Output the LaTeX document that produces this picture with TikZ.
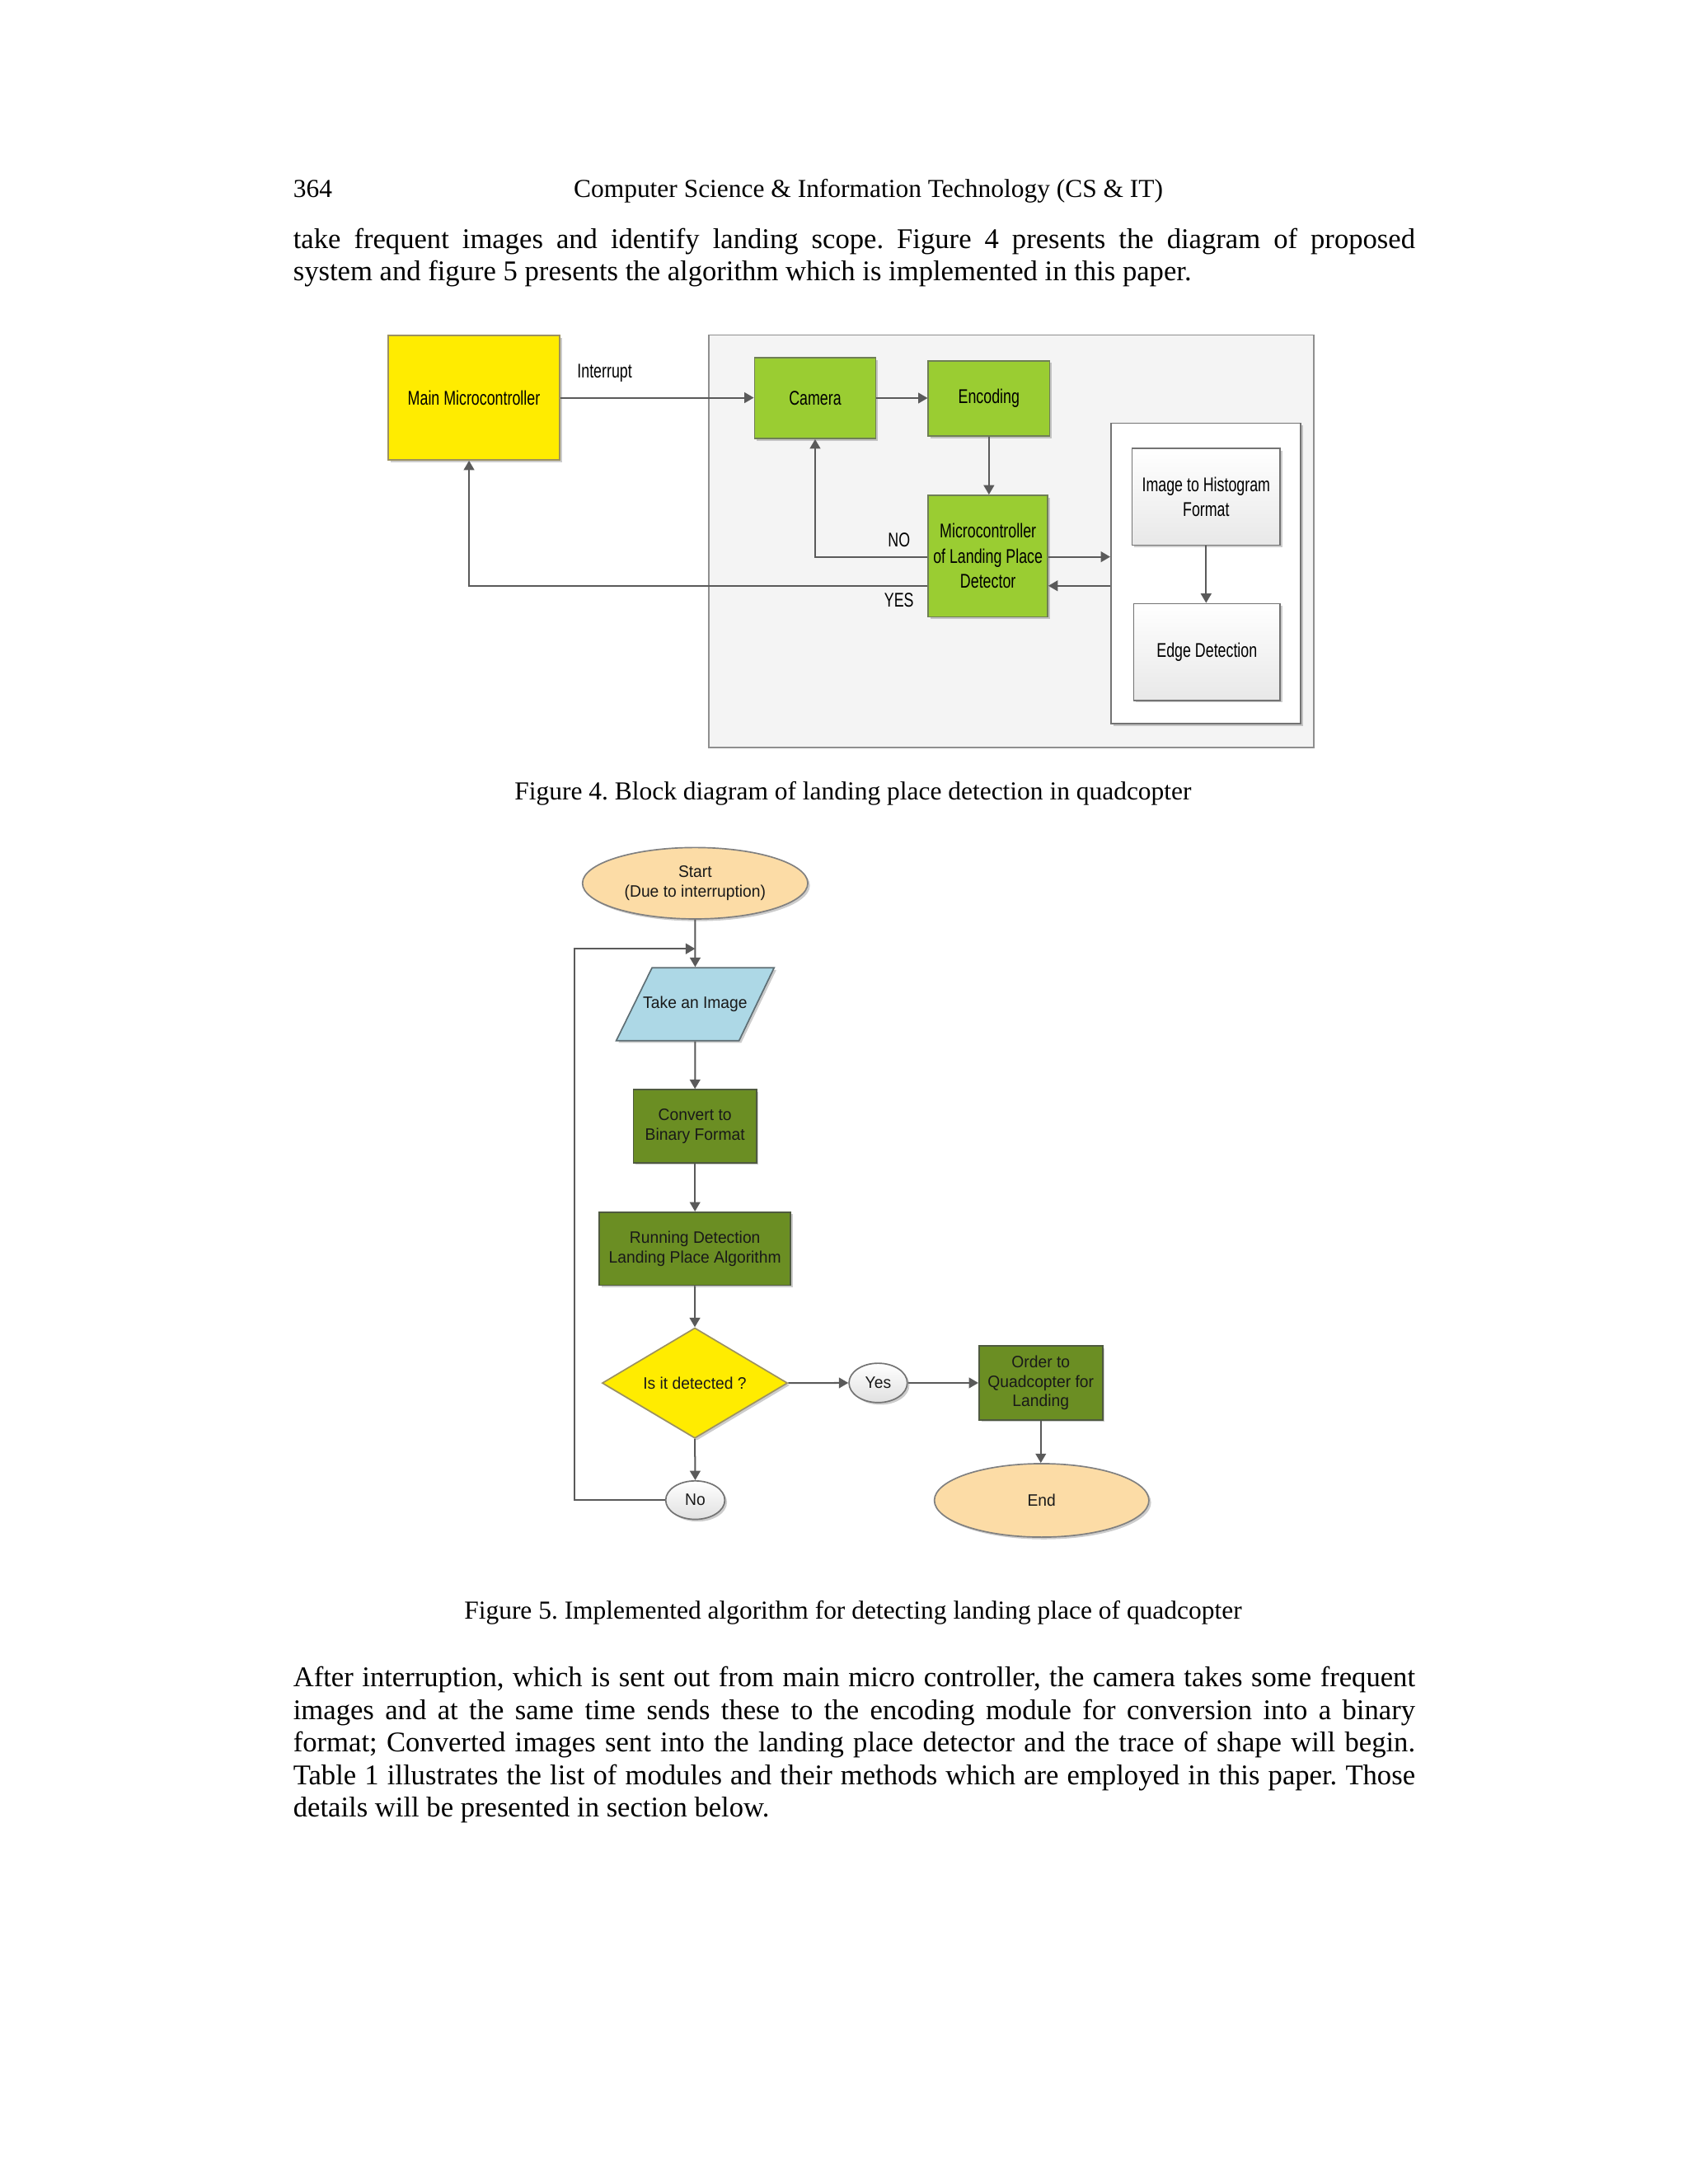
\documentclass[tikz,border=0pt]{standalone}
\usepackage{fontspec}
\setmainfont{Liberation Serif}
\newfontfamily\narrowsf[FakeStretch=0.74]{Liberation Sans}
\newfontfamily\flowsf[FakeStretch=0.96]{Liberation Sans}
\usetikzlibrary{arrows.meta,shapes.geometric,shadows,calc}
\def\pu{0.5054pt}
\definecolor{linegray}{HTML}{5A5A5A}
\definecolor{yel}{HTML}{FFEC00}
\definecolor{yelborder}{HTML}{9C9160}
\definecolor{greenf}{HTML}{9ACD32}
\definecolor{greenborder}{HTML}{6F7F55}
\definecolor{bigfill}{HTML}{F4F4F4}
\definecolor{bigborder}{HTML}{8F8F8F}
\definecolor{olive}{HTML}{6B8E23}
\definecolor{oliveborder}{HTML}{4F5A40}
\definecolor{peach}{HTML}{FCDCA6}
\definecolor{lblue}{HTML}{ADD8E6}
\definecolor{lblueborder}{HTML}{5E6E74}
\frenchspacing
\begin{document}
\begin{tikzpicture}[x=0.5054pt,y=-0.5054pt,
  body/.style={inner sep=0pt,anchor=base west,font=\fontsize{9.4pt}{11.5pt}\selectfont},
  para/.style={inner sep=0pt,anchor=base west,font=\fontsize{10.35pt}{12pt}\selectfont},
  shad/.style={drop shadow={shadow xshift=0.8pt,shadow yshift=-0.8pt,opacity=0.2,fill=black}},
  fourbox/.style={rectangle,inner sep=0pt,align=center,line width=0.5pt,shad,
    font=\narrowsf\fontsize{7.2pt}{9.1pt}\selectfont},
  fourlabel/.style={inner sep=0pt,font=\narrowsf\fontsize{7.2pt}{9.1pt}\selectfont},
  greenbox/.style={fourbox,fill=greenf,draw=greenborder},
  graybox/.style={fourbox,top color=white,bottom color=black!9,draw=black!55},
  flow/.style={inner sep=0pt,align=center,line width=0.5pt,text=black!90,
    font=\flowsf\fontsize{6pt}{7pt}\selectfont},
  olivebox/.style={flow,rectangle,fill=olive,draw=oliveborder,shad},
  oval/.style={flow,ellipse,fill=peach,draw=black!50,shad},
  smalloval/.style={flow,ellipse,top color=white,bottom color=black!12,draw=black!55,shad},
  arr/.style={draw=linegray,line width=0.6pt,-{Triangle[length=3.4pt,width=3.8pt]}},
  conn/.style={draw=linegray,line width=0.6pt}]
\useasboundingbox (0,0) rectangle (1211,1567);
\fill[white] (0,0) rectangle (1211,1567);

% header and first paragraph
\node[body] (pagenum) at (210,141.9) {364};
\node[body,anchor=base] (header) at (623,141.9) {Computer Science \& Information Technology (CS \& IT)};
\node[para] (p1a) at (210,178.5) {\makebox[406.8pt][s]{take frequent images and identify landing scope. Figure 4 presents the diagram of proposed}};
\node[para] (p1b) at (210,201.3) {system and figure 5 presents the algorithm which is implemented in this paper.};

% ---------- Figure 4 ----------
\node[rectangle,fill=bigfill,draw=bigborder,line width=0.5pt,minimum width=434.2*\pu,minimum height=296*\pu] (big) at (725.5,388.4) {};
\node[fourbox,fill=yel,draw=yelborder,minimum width=123*\pu,minimum height=89.3*\pu] (main) at (340,285.35) {Main Microcontroller};
\node[greenbox,minimum width=87*\pu,minimum height=58.1*\pu] (camera) at (584.8,285.6) {Camera};
\node[greenbox,minimum width=87*\pu,minimum height=54*\pu] (encoding) at (709.5,285.8) {Encoding};
\node[greenbox,minimum width=85.6*\pu,minimum height=87.3*\pu] (detector) at (708.8,399) {Microcontroller\\of Landing Place\\Detector};
\node[rectangle,fill=white,draw=black!55,line width=0.5pt,shad,minimum width=136*\pu,minimum height=215.6*\pu] (inner) at (865,411.4) {};
\node[graybox,minimum width=106.2*\pu,minimum height=69.5*\pu] (hist) at (865.3,356.35) {Image to Histogram\\Format};
\node[graybox,minimum width=105*\pu,minimum height=69.4*\pu] (edge) at (865.9,467.8) {Edge Detection};

\node[fourlabel] (intlabel) at (433.8,267.7) {Interrupt};
\node[fourlabel] (nolabel) at (645,387.6) {NO};
\node[fourlabel] (yeslabel) at (645,430.5) {YES};

\coordinate (noout) at ($(detector.west)+(0,0.5)$);
\coordinate (yesout) at ($(detector.west)+(0,21.3)$);
\coordinate (yesin) at ($(main.south)+(-3.5,0)$);
\coordinate (toinner) at ($(detector.east)+(0,0.5)$);
\coordinate (frominner) at ($(detector.east)+(0,21.3)$);

\draw[arr] (main.east) -- (main.east -| camera.west);
\draw[arr] (camera.east) -- (camera.east -| encoding.west);
\draw[arr] (encoding.south) -- (encoding.south |- detector.north);
\draw[arr] (noout) -| (camera.south);
\draw[arr] (yesout) -| (yesin);
\draw[arr] (toinner) -- (toinner -| inner.west);
\draw[arr] (frominner -| inner.west) -- (frominner);
\draw[arr] (hist.south) -- (hist.south |- edge.north);

\node[body,anchor=base] (cap4) at (612,573.6) {Figure 4. Block diagram of landing place detection in quadcopter};

% ---------- Figure 5 ----------
\node[oval,minimum width=161.6*\pu,minimum height=51.2*\pu] (start) at (498.7,633.7) {Start\\(Due to interruption)};
\filldraw[fill=lblue,draw=lblueborder,line width=0.5pt,shad] (442.1,746.7) -- (530.2,746.7) -- (555.4,694.3) -- (467.8,694.3) -- cycle;
\node[flow,minimum width=88*\pu,minimum height=52.4*\pu] (take) at (498.75,720.5) {Take an Image};
\node[olivebox,minimum width=88.2*\pu,minimum height=52.4*\pu] (convert) at (498.6,808) {Convert to\\Binary Format};
\node[olivebox,minimum width=137.1*\pu,minimum height=52.4*\pu] (running) at (498.6,895.9) {Running Detection\\Landing Place Algorithm};
\node[flow,diamond,aspect=1.68,fill=yel,draw=yelborder,shad,minimum width=133*\pu,minimum height=79.2*\pu] (detected) at (498.5,992.3) {Is it detected ?};
\node[smalloval,minimum width=41.8*\pu,minimum height=28.2*\pu] (yes) at (630,992.2) {Yes};
\node[olivebox,minimum width=88.6*\pu,minimum height=53*\pu] (order) at (746.7,992.2) {Order to\\Quadcopter for\\Landing};
\node[oval,minimum width=153.9*\pu,minimum height=52.7*\pu] (end) at (747.3,1076.5) {End};
\node[smalloval,minimum width=42.4*\pu,minimum height=27.6*\pu] (no) at (498.8,1076.3) {No};
\coordinate (loopin) at (498.7,680.7);
\coordinate (loopcorner) at (411.9,680.7);

\draw[arr] (start.south) -- (take.north);
\draw[arr] (take.south) -- (convert.north);
\draw[arr] (convert.south) -- (running.north);
\draw[arr] (running.south) -- (detected.north);
\draw[arr] (detected.east) -- (yes.west);
\draw[arr] (yes.east) -- (yes.east -| order.west);
\draw[arr] (order.south) -- (order.south |- end.north);
\draw[arr] (detected.south) -- (no.north);
\draw[arr] (no.west) -| (loopcorner) -- (loopin);

\node[body,anchor=base] (cap5) at (612,1161.6) {Figure 5. Implemented algorithm for detecting landing place of quadcopter};

% second paragraph
\node[para] (p2a) at (210,1210.3) {\makebox[406.8pt][s]{After interruption, which is sent out from main micro controller, the camera takes some frequent}};
\node[para] (p2b) at (210,1233.6) {\makebox[406.8pt][s]{images and at the same time sends these to the encoding module for conversion into a binary}};
\node[para] (p2c) at (210,1257.0) {\makebox[406.8pt][s]{format; Converted images sent into the landing place detector and the trace of shape will begin.}};
\node[para] (p2d) at (210,1280.5) {\makebox[406.8pt][s]{Table 1 illustrates the list of modules and their methods which are employed in this paper. Those}};
\node[para] (p2e) at (210,1303.4) {details will be presented in section below.};
\end{tikzpicture}
\end{document}
